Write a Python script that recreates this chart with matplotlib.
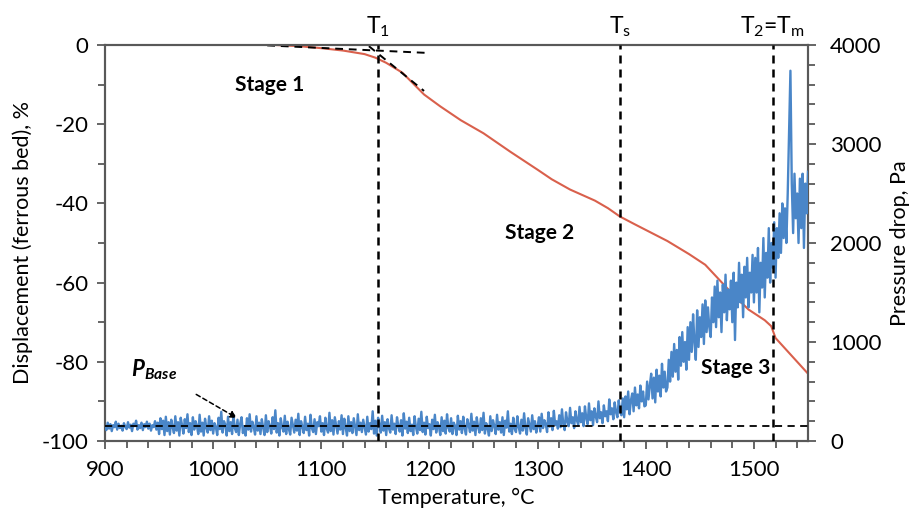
import numpy as np
import matplotlib
matplotlib.use("Agg")
import matplotlib.pyplot as plt
from matplotlib.ticker import MultipleLocator

plt.rcParams['font.family'] = ['Lato', 'DejaVu Sans']
plt.rcParams['axes.unicode_minus'] = False
plt.rcParams['mathtext.fontset'] = 'custom'
plt.rcParams['mathtext.rm'] = 'Lato'
plt.rcParams['mathtext.it'] = 'Lato:italic'
plt.rcParams['mathtext.bf'] = 'Lato:bold'
plt.rcParams['mathtext.bfit'] = 'Lato:italic:bold'

# ---------------- data ----------------
disp_temp = [900, 1000, 1050, 1080, 1100, 1120, 1140, 1150, 1160, 1175, 1195,
             1210, 1229, 1250, 1275, 1300, 1313, 1330, 1353, 1365, 1376,
             1390, 1405, 1420, 1440, 1455, 1467, 1480, 1495, 1510, 1516,
             1520, 1530, 1540, 1550]
disp_val = [0.3, 0.3, 0.1, -0.3, -0.8, -1.4, -2.3, -3.2, -4.5, -7.0, -12.5,
            -15.5, -19.0, -22.3, -27.0, -31.5, -33.9, -36.5, -39.3, -41.2, -43.3,
            -45.3, -47.4, -49.5, -52.8, -55.5, -59.0, -62.8, -66.8, -69.5, -71.0,
            -74.0, -77.0, -80.0, -83.0]

# pressure drop sampled every 1.25 degC from 900 degC (rows of 20 degC)
press_start, press_step = 900.0, 1.25
pressure = [
    150, 110, 185, 125, 170, 100, 160, 140, 195, 115, 175, 130, 155, 105, 180, 145,
    120, 190, 135, 165, 100, 175, 150, 205, 115, 160, 130, 185, 110, 170, 140, 195,
    125, 175, 105, 160, 140, 200, 115, 185, 70, 230, 120, 205, 60, 245, 100, 190,
    65, 215, 140, 80, 250, 105, 190, 55, 235, 160, 75, 220, 130, 270, 90, 180,
    60, 240, 115, 200, 150, 70, 265, 95, 185, 55, 225, 135, 85, 250, 110, 205,
    75, 180, 140, 60, 235, 120, 295, 85, 200, 165, 55, 245, 100, 190, 70, 260,
    130, 90, 215, 60, 175, 240, 80, 150, 55, 230, 115, 270, 95, 195, 140, 65,
    250, 105, 185, 70, 220, 135, 60, 260, 90, 200, 150, 75, 240, 120, 310, 85,
    180, 55, 230, 140, 95, 255, 70, 195, 120, 65, 235, 160, 85, 215, 105, 275,
    60, 200, 145, 80, 245, 110, 175, 55, 265, 130, 90, 220, 70, 190, 150, 250,
    95, 180, 60, 235, 125, 85, 285, 100, 210, 65, 240, 155, 75, 200, 115, 260,
    70, 225, 135, 55, 250, 100, 190, 80, 230, 145, 60, 270, 110, 185, 90, 215,
    140, 65, 245, 95, 180, 120, 300, 75, 205, 55, 235, 165, 85, 255, 105, 190,
    60, 220, 130, 85, 260, 115, 175, 70, 240, 150, 95, 210, 55, 280, 125, 195,
    80, 235, 100, 165, 60, 250, 140, 75, 225, 110, 295, 90, 185, 65, 245, 130,
    170, 55, 215, 120, 265, 85, 190, 145, 60, 240, 100, 205, 75, 270, 135, 95,
    230, 70, 185, 150, 60, 255, 115, 200, 80, 245, 125, 65, 220, 160, 90, 275,
    105, 195, 60, 240, 140, 85, 230, 110, 285, 75, 180, 130, 55, 250, 100, 210,
    150, 70, 265, 115, 190, 85, 240, 60, 205, 135, 300, 95, 175, 70, 235, 125,
    90, 250, 140, 75, 215, 105, 280, 130, 65, 230, 160, 95, 260, 120, 200, 85,
    150, 240, 95, 275, 130, 210, 170, 90, 290, 145, 230, 110, 305, 160, 200, 125,
    260, 140, 320, 170, 110, 290, 200, 150, 335, 180, 240, 130, 300, 210, 165, 345,
    190, 280, 150, 350, 230, 170, 380, 210, 300, 160, 330, 250, 190, 400, 230, 290,
    180, 360, 250, 300, 200, 420, 270, 330, 220, 390, 290, 240, 410, 300, 260, 430,
    240, 450, 320, 500, 270, 410, 480, 300, 540, 360, 470, 330, 560, 400, 500, 350,
    360, 600, 420, 560, 680, 430, 640, 390, 720, 500, 660, 450, 780, 540, 700, 500,
    540, 820, 600, 900, 650, 980, 700, 920, 620, 1050, 760, 1100, 800, 1000, 720, 1150,
    820, 1200, 900, 1280, 1000, 820, 1320, 950, 1250, 1050, 1380, 980, 1420, 1100, 1350, 1150,
    1050, 1450, 1200, 1560, 1150, 1620, 1250, 1500, 1100, 1580, 1300, 1680, 1220, 1530, 1330, 1620,
    1200, 1700, 1020, 1600, 1350, 1800, 1400, 1680, 1250, 1760, 1450, 1850, 1350, 1700, 1500, 1880,
    1400, 1850, 1500, 1950, 1300, 1800, 1550, 2050, 1450, 1900, 1650, 2150, 1600, 2000, 1750, 2210,
    1650, 2150, 1850, 2300, 1900, 2400, 2050, 2350, 2000, 2500, 3120, 3740, 2600, 2100, 2700, 2250,
    2500, 2000, 2650, 2150, 2700, 1950, 2600, 2300, 2720,
]
press_temp = press_start + press_step * np.arange(len(pressure))

T1, Ts, Tm = 1152, 1376, 1518
p_base = 155
tangent1_x = [1050, 1198]
tangent1_y = [-0.1, -2.0]
tangent2_x = [1144, 1195]
tangent2_y = [-0.3, -11.6]

x_ticks = [900, 1000, 1100, 1200, 1300, 1400, 1500]
yl_ticks = [-100, -80, -60, -40, -20, 0]
yr_ticks = [0, 1000, 2000, 3000, 4000]

# ---------------- figure ----------------
axc = '#595959'
red = '#d9604c'
blue = '#4a86c8'

fig = plt.figure(figsize=(9.12, 5.16), dpi=100)
ax = fig.add_axes([105/912, 75/516, 703/912, 396/516])
ax2 = ax.twinx()

ax.plot(disp_temp, disp_val, color=red, lw=1.5, zorder=3)
ax.plot(tangent1_x, tangent1_y, color='black', lw=1.4, ls=(0, (4, 3)), zorder=4)
ax.plot(tangent2_x, tangent2_y, color='black', lw=1.4, ls=(0, (4, 3)), zorder=4)

ax2.plot(press_temp, pressure, color=blue, lw=1.7, zorder=3)
ax2.axhline(p_base, color='black', lw=1.3, ls=(0, (4, 3)), zorder=4)
for t in (T1, Ts, Tm):
    ax2.axvline(t, color='black', lw=1.8, ls=(0, (3.2, 2.4)), zorder=4)

ax.set_xlim(900, 1550)
ax.set_ylim(-100, 0)
ax2.set_ylim(0, 4000)

ax.set_xticks(x_ticks)
ax.set_yticks(yl_ticks)
ax2.set_yticks(yr_ticks)
ax.xaxis.set_minor_locator(MultipleLocator(20))
ax.yaxis.set_minor_locator(MultipleLocator(10))
ax2.yaxis.set_minor_locator(MultipleLocator(200))

for a in (ax, ax2):
    for s in a.spines.values():
        s.set_color(axc)
        s.set_linewidth(1.5)
    a.tick_params(which='both', colors=axc, width=1.3, labelcolor='black',
                  labelsize=16, direction='out')
    a.tick_params(which='major', length=6)
    a.tick_params(which='minor', length=5)
ax.tick_params(axis='x', pad=8)
ax.tick_params(axis='y', pad=6)
ax2.tick_params(axis='y', pad=10)

ax.set_xlabel('Temperature, °C', fontsize=15.5, labelpad=5)
ax.set_ylabel('Displacement (ferrous bed), %', fontsize=15.5, labelpad=6)
ax2.set_ylabel('Pressure drop, Pa', fontsize=15.5, labelpad=6)

# annotations
fs_t = 16.5
ax.text(T1, 1.5, r'T$_\mathrm{1}$', ha='center', va='bottom', fontsize=fs_t,
        clip_on=False)
ax.text(Ts, 1.5, r'T$_\mathrm{s}$', ha='center', va='bottom', fontsize=fs_t,
        clip_on=False)
ax.text(Tm - 1, 1.5, r'T$_\mathrm{2}$=T$_\mathrm{m}$', ha='center', va='bottom',
        fontsize=fs_t, clip_on=False)

ax.text(1052, -10, 'Stage 1', fontsize=15, fontweight='bold', ha='center', va='center')
ax.text(1302, -47.5, 'Stage 2', fontsize=15, fontweight='bold', ha='center', va='center')
ax.text(1483, -81.5, 'Stage 3', fontsize=15, fontweight='bold', ha='center', va='center')

ax2.annotate(r'$\mathbfit{P}_{\mathbfit{Base}}$', xy=(1022, -94.2), xytext=(945, -82),
             xycoords=ax.transData, textcoords=ax.transData,
             fontsize=16, ha='center', va='center', zorder=6,
             arrowprops=dict(arrowstyle='-|>', color='black', lw=1.1, ls=(0, (3, 2)),
                             shrinkA=14, shrinkB=0, mutation_scale=10))

fig.savefig('out.png', dpi=100)
